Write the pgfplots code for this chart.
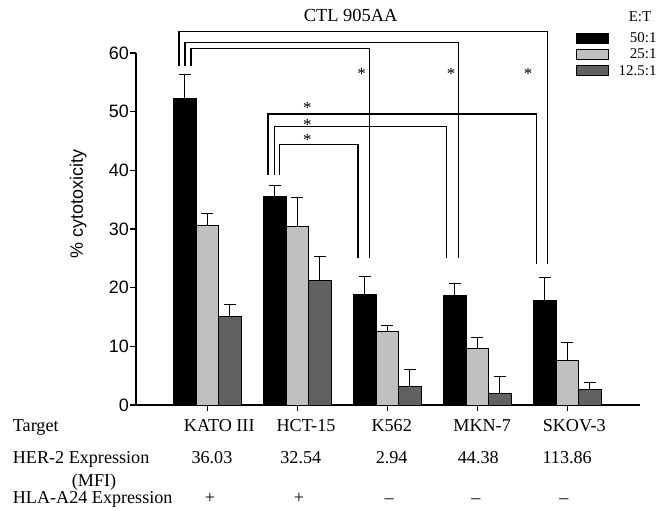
\documentclass[border=0pt]{standalone}
\usepackage{fontspec}
\setmainfont{Liberation Serif}
\newfontfamily\arial{Liberation Sans}
\usepackage{pgfplots}
\usepackage{pgfplotstable}
\pgfplotsset{compat=1.18}
\definecolor{lgray}{RGB}{192,192,192}
\definecolor{dgray}{RGB}{97,97,97}
\newcommand\tx{\fontsize{18.2}{21}\selectfont}
\tikzset{
  star/.style={anchor=base, inner sep=0pt, font=\fontsize{17}{18}\selectfont},
  tab/.style={anchor=base, inner sep=0pt, font=\tx},
  tabw/.style={anchor=base west, inner sep=0pt, font=\tx},
}
\pgfplotsset{
  errs/.style={error bars/.cd, y dir=plus, y explicit,
    error bar style={line width=1.2bp, black},
    error mark=|,
    error mark options={black, line width=1.2bp, mark size=5.8bp}},
}
\pgfplotstableread{
x b be l le d de
0 52.3 4.0 30.6 2.0 15.1 2.0
1 35.5 1.9 30.4 5.0 21.3 4.0
2 18.9 3.0 12.6 0.9 3.1 2.9
3 18.7 2.0 9.6 1.9 1.9 3.0
4 17.8 4.0 7.6 3.0 2.6 1.2
}\data
\begin{document}
\begin{tikzpicture}
\path[use as bounding box] (-136bp,-106bp) rectangle (530bp,405bp);
\begin{axis}[
  at={(0,0)}, anchor=south west,
  scale only axis, width=504bp, height=352bp,
  xmin=-0.792, xmax=4.808, ymin=0, ymax=60,
  axis x line*=bottom, axis y line*=left,
  axis line style={line width=1.2bp, black},
  ytick={0,10,...,60}, xtick={0,1,2,3,4}, xticklabels={},
  tick align=outside, major tick length=6bp,
  tick style={black, line width=1.1bp},
  /pgf/number format/assume math mode=true,
  yticklabel style={font=\arial\fontsize{18}{20}\selectfont, inner sep=1bp},
  ybar=0pt, bar width=0.25,
  clip=false,
  legend cell align=right,
  legend style={draw=none, fill=none, at={(axis cs:4.997,63.6)}, anchor=north east,
    inner sep=0pt, outer sep=0pt, font=\fontsize{15}{17}\selectfont, row sep=4bp,
    nodes={inner sep=0.5bp},
    /tikz/every odd column/.append style={column sep=9bp}},
  legend image code/.code={\draw[#1, line width=1bp] (0bp,-5bp) rectangle (32bp,5bp);},
]
\addplot[fill=black, draw=black, line width=0.8bp, errs] table[x=x, y=b, y error=be] {\data};
\addlegendentry{50:1}
\addplot[fill=lgray, draw=black, line width=0.8bp, errs] table[x=x, y=l, y error=le] {\data};
\addlegendentry{25:1}
\addplot[fill=dgray, draw=black, line width=0.8bp, errs] table[x=x, y=d, y error=de] {\data};
\addlegendentry{12.5:1}

% significance brackets
\addplot[sharp plot, no marks, line width=1.2bp, black, forget plot] coordinates {(-0.314,57.7) (-0.314,63.7) (3.782,63.7) (3.782,24.0)};
\addplot[sharp plot, no marks, line width=1.2bp, black, forget plot] coordinates {(-0.248,57.7) (-0.248,61.8) (2.789,61.8) (2.789,25.0)};
\addplot[sharp plot, no marks, line width=1.2bp, black, forget plot] coordinates {(-0.181,57.7) (-0.181,60.7) (1.80,60.7) (1.80,25.0)};
\addplot[sharp plot, no marks, line width=1.2bp, black, forget plot] coordinates {(0.674,39.2) (0.674,49.6) (3.66,49.6) (3.66,24.0)};
\addplot[sharp plot, no marks, line width=1.2bp, black, forget plot] coordinates {(0.744,39.2) (0.744,47.5) (2.66,47.5) (2.66,25.0)};
\addplot[sharp plot, no marks, line width=1.2bp, black, forget plot] coordinates {(0.80,39.2) (0.80,44.35) (1.674,44.35) (1.674,25.0)};

% stars
\node[star] at (axis cs:1.716,55.46) {*};
\node[star] at (axis cs:2.708,55.46) {*};
\node[star] at (axis cs:3.564,55.46) {*};
\node[star] at (axis cs:1.111,49.66) {*};
\node[star] at (axis cs:1.111,46.86) {*};
\node[star] at (axis cs:1.111,44.16) {*};

% title and legend title
\node[anchor=base, inner sep=0pt, font=\fontsize{18.5}{21}\selectfont] at (axis cs:1.593,65.39) {CTL 905AA};
\node[anchor=base, inner sep=0pt, font=\fontsize{15}{17}\selectfont] at (axis cs:4.808,65.4) {E:T};

% y label
\node[rotate=90, anchor=center, inner sep=0pt, font=\arial\fontsize{18}{20}\selectfont] at (axis cs:-1.433,34.3) {\% cytotoxicity};

% bottom table
\node[tabw] at (axis cs:-2.162,-4.555) {Target};
\node[tabw] at (axis cs:-2.162,-9.945) {HER-2 Expression};
\node[tabw] at (axis cs:-1.507,-13.82) {(MFI)};
\node[tabw] at (axis cs:-2.162,-16.77) {HLA-A24 Expression};
\node[tab] at (axis cs:0.133,-4.555) {KATO III};
\node[tab] at (axis cs:1.097,-4.555) {HCT-15};
\node[tab] at (axis cs:2.049,-4.555) {K562};
\node[tab] at (axis cs:3.054,-4.555) {MKN-7};
\node[tab] at (axis cs:4.077,-4.555) {SKOV-3};
\node[tab] at (axis cs:0.052,-9.945) {36.03};
\node[tab] at (axis cs:1.039,-9.945) {32.54};
\node[tab] at (axis cs:2.049,-9.945) {2.94};
\node[tab] at (axis cs:3.011,-9.945) {44.38};
\node[tab] at (axis cs:3.999,-9.945) {113.86};
\node[tab] at (axis cs:0.03,-16.77) {+};
\node[tab] at (axis cs:1.019,-16.77) {+};
\node[tab] at (axis cs:2.022,-16.77) {–};
\node[tab] at (axis cs:2.986,-16.77) {–};
\node[tab] at (axis cs:3.963,-16.77) {–};
\end{axis}
\end{tikzpicture}
\end{document}
